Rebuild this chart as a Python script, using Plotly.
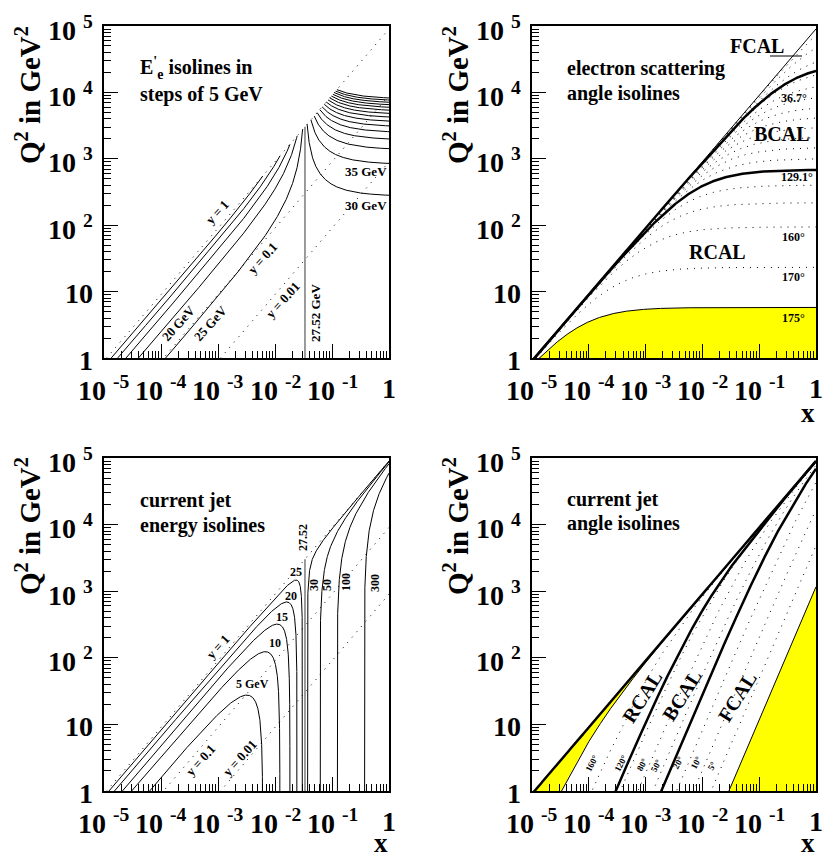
import numpy as np
import plotly.graph_objects as go

# ---------------- data (HERA kinematics) ----------------
E_E = 27.52          # electron beam energy [GeV]
E_P = 820.0          # proton beam energy [GeV]
S = 4 * E_E * E_P    # centre-of-mass energy squared

# panel 1: scattered electron energy isolines [GeV]
EE_LOW = [5, 10, 15, 20, 25]
EE_HIGH = [30, 35, 40, 45, 50, 55, 60, 65, 70, 75, 80, 85, 90, 95, 100]
Y_LINES = [1.0, 0.1, 0.01]

# panel 2: electron scattering angle isolines [deg]
THETA_THICK = [36.7, 129.1]
THETA_DOTTED = [10, 20, 30, 40, 50, 60, 70, 80, 90, 100, 110, 120, 140, 150, 160, 170]
THETA_YELLOW = 175.0

# panel 3: current jet energy isolines [GeV]
EJ_LOW = [5, 10, 15, 20, 25]
EJ_HIGH = [30, 50, 100, 300]

# panel 4: current jet angle isolines [deg]
GAMMA_THICK = [129.1, 36.7]
GAMMA_DOTTED = [160, 120, 80, 50, 20, 10, 5]
GAMMA_BACK = 175.0
GAMMA_FWD = 2.4

# axes
X_RANGE = [-5, 0]
Q2_RANGE = [0, 5]
X_TICKVALS = [1e-5, 1e-4, 1e-3, 1e-2, 1e-1, 1]
X_TICKTEXT = ["10\u00a0<sup>-5</sup>", "10\u00a0<sup>-4</sup>", "10\u00a0<sup>-3</sup>",
              "10\u00a0<sup>-2</sup>", "10\u00a0<sup>-1</sup>", "1"]
Y_TICKVALS = [1, 10, 1e2, 1e3, 1e4, 1e5]
Y_TICKTEXT = ["1", "10", "10\u00a0<sup>2</sup>", "10\u00a0<sup>3</sup>",
              "10\u00a0<sup>4</sup>", "10\u00a0<sup>5</sup>"]

# ---------------- geometry / style ----------------
W, H = 823, 857
FONT = "Liberation Serif"
PANELS = [(104, 389, 26, 358), (532, 816, 26, 358), (104, 389, 458, 791), (532, 816, 458, 791)]
DOT = "1px,6px"
YELLOW = "#ffff00"

XS = np.logspace(-5.5, 0, 3000)


def logx(a, b, n=1500):
    return np.logspace(np.log10(a), np.log10(b), n)


def ee_isoline(E):
    if E < E_E:
        x = logx(1e-6, E / E_P)
        q2 = 4 * (E_E - E) * E_E * E_P * x / (E_E - E_P * x)
    else:
        x = logx(E / E_P, 1.0)
        q2 = 4 * (E - E_E) * E_E * E_P * x / (E_P * x - E_E)
    return x, q2


def jet_energy_isoline(E):
    u = np.logspace(-10, 0, 1500)
    ymax = E / E_E if E < E_E else (E_P - E) / (E_P - E_E)
    y = np.unique(np.concatenate([ymax * u, ymax * (1 - u)]))
    y = y[(y > 0) & (y <= ymax)]
    x = (E - E_E * y) / (E_P * (1 - y))
    q2 = S * x * y
    k = (x > 0) & (q2 > 0) & (x <= 1.0000001)
    order = np.argsort(x[k])
    return x[k][order], q2[k][order]


def e_angle_q2(theta, x):
    c = np.cos(np.radians(theta) / 2) ** 2
    return 4 * E_E ** 2 * c / ((1 - c) + c * E_E / (E_P * x))


def jet_angle_q2(gamma, x):
    t = np.tan(np.radians(gamma) / 2) ** 2
    sx = S * x
    return t * sx ** 2 / (t * sx + 4 * E_E ** 2)


fig = go.Figure()


def names(i):
    return ("x" if i == 1 else f"x{i}", "y" if i == 1 else f"y{i}")


def line(i, x, y, width=1.0, dash="solid", color="black"):
    xa, ya = names(i)
    fig.add_trace(go.Scatter(x=x, y=y, mode="lines", xaxis=xa, yaxis=ya,
                             line=dict(color=color, width=width, dash=dash),
                             hoverinfo="skip", showlegend=False))


def fill(i, x, y):
    xa, ya = names(i)
    fig.add_trace(go.Scatter(x=x, y=y, mode="lines", xaxis=xa, yaxis=ya, fill="toself",
                             fillcolor=YELLOW, line=dict(width=0, color=YELLOW),
                             hoverinfo="skip", showlegend=False))


# ---- panel 1 ----
xd = logx(1e-6, 1.0)
for yv in Y_LINES:
    line(1, xd, S * xd * yv, dash=DOT)
for E in EE_LOW + EE_HIGH:
    x, q = ee_isoline(E)
    line(1, x, q)
x0 = E_E / E_P
line(1, [x0, x0], [1, 4 * E_E ** 2], width=1.5, color="#7a7a7a")

# ---- panel 2 ----
q175 = e_angle_q2(THETA_YELLOW, XS)
fill(2, np.concatenate([XS, [1.0, XS[0]]]), np.concatenate([q175, [0.1, 0.1]]))
line(2, XS, q175)
for th in THETA_DOTTED:
    line(2, XS, e_angle_q2(th, XS), dash=DOT)
line(2, xd, S * xd)
for th in THETA_THICK:
    line(2, XS, e_angle_q2(th, XS), width=2.5)

# ---- panel 3 ----
for yv in Y_LINES:
    line(3, xd, S * xd * yv, dash=DOT)
for E in EJ_LOW + EJ_HIGH:
    x, q = jet_energy_isoline(E)
    line(3, x, q)
line(3, [x0, x0], [1, 4 * E_E ** 2], width=1.5, color="#7a7a7a")

# ---- panel 4 ----
qb = jet_angle_q2(GAMMA_BACK, XS)
fill(4, np.concatenate([XS, XS[::-1]]), np.concatenate([S * XS, qb[::-1]]))
qf = jet_angle_q2(GAMMA_FWD, XS)
fill(4, np.concatenate([XS, [1.0, XS[0]]]), np.concatenate([qf, [0.1, 0.1]]))
line(4, XS, qb)
line(4, XS, qf)
for g in GAMMA_DOTTED:
    line(4, XS, jet_angle_q2(g, XS), dash=DOT)
line(4, XS, S * XS, width=2.5)
for g in GAMMA_THICK:
    line(4, XS, jet_angle_q2(g, XS), width=2.5)

# ---------------- axes ----------------
layout = dict(width=W, height=H, margin=dict(l=0, r=0, t=0, b=0, autoexpand=False),
              paper_bgcolor="white", plot_bgcolor="white", showlegend=False)
for i, (l, r, t, b) in enumerate(PANELS, start=1):
    xa, ya = names(i)
    common = dict(type="log", showline=True, linecolor="black", linewidth=1.5, mirror=True,
                  ticks="inside", ticklen=14, tickcolor="black", tickwidth=1,
                  showgrid=False, zeroline=False, tickmode="array", showticklabels=False,
                  automargin=False,
                  minor=dict(ticks="inside", ticklen=7, tickcolor="black", tickwidth=1,
                             tick0=0, dtick="D1", showgrid=False))
    layout["xaxis" if i == 1 else f"xaxis{i}"] = dict(common, range=X_RANGE, domain=[l / W, r / W],
                                                      anchor=ya, tickvals=X_TICKVALS)
    layout["yaxis" if i == 1 else f"yaxis{i}"] = dict(common, range=Q2_RANGE, domain=[1 - b / H, 1 - t / H],
                                                      anchor=xa, tickvals=Y_TICKVALS)
fig.update_layout(**layout)


def ann(text, px, py, size=13, angle=0, xanchor="center"):
    fig.add_annotation(text=f"<b>{text}</b>", x=px / W, y=1 - py / H, xref="paper", yref="paper",
                       showarrow=False, textangle=angle, xanchor=xanchor, yanchor="middle",
                       font=dict(family=FONT, size=size, color="black"))


# tick labels (bold, placed on the axes' own scales)
TICK_SIZE = 28
for i, (l, r, t, b) in enumerate(PANELS, start=1):
    xa, ya = names(i)
    for v, txt in zip(X_TICKVALS, X_TICKTEXT):
        fig.add_annotation(text=f"<b>{txt}</b>", xref=xa, x=np.log10(v), yref="paper",
                           y=1 - (b + 30) / H, xanchor="center", yanchor="middle", showarrow=False,
                           font=dict(family=FONT, size=TICK_SIZE, color="black"))
    for v, txt in zip(Y_TICKVALS, Y_TICKTEXT):
        fig.add_annotation(text=f"<b>{txt}</b>", xref="paper", x=(l - 9) / W, yref=ya, y=np.log10(v),
                           xanchor="right", yanchor="middle", yshift=-2, showarrow=False,
                           font=dict(family=FONT, size=TICK_SIZE, color="black"))

# axis titles
for px, py in [(28, 95), (456, 95), (28, 526), (456, 526)]:
    ann("Q<sup>2</sup> in GeV<sup>2</sup>", px, py, 29, -90)
for px, py in [(808, 413), (381, 843), (808, 843)]:
    ann("x", px, py, 27)

# panel 1 text
ann("E<sup>'</sup><sub>e</sub> isolines in", 138, 68, 20, xanchor="left")
ann("steps of 5 GeV", 138, 94, 20, xanchor="left")
ann("y = 1", 218, 212, 13, -48)
ann("y = 0.1", 262, 258, 13, -48)
ann("y = 0.01", 282, 300, 13, -48)
ann("20 GeV", 178, 323, 13, -48)
ann("25 GeV", 210, 323, 13, -48)
ann("27.52 GeV", 315, 313, 13, -90)
ann("35 GeV", 366, 172, 13)
ann("30 GeV", 366, 206, 13)

# panel 2 text
ann("FCAL", 757, 46, 20)
fig.add_shape(type="line", xref="paper", yref="paper", x0=770 / W, x1=802 / W,
              y0=1 - 56 / H, y1=1 - 56 / H, line=dict(color="black", width=1))
ann("electron scattering", 565, 68, 20, xanchor="left")
ann("angle isolines", 565, 93, 20, xanchor="left")
ann("36.7°", 794, 98, 12)
ann("BCAL", 782, 134, 20)
ann("129.1°", 797, 177, 12)
ann("160°", 793, 237, 12)
ann("RCAL", 717, 252, 20)
ann("170°", 793, 277, 12)
ann("175°", 793, 318, 12)

# panel 3 text
ann("current jet", 138, 500, 20, xanchor="left")
ann("energy isolines", 138, 525, 20, xanchor="left")
ann("27.52", 303, 538, 12, -90)
ann("25", 296, 572, 12)
ann("20", 291, 596, 12)
ann("15", 282, 617, 12)
ann("10", 275, 643, 12)
ann("5 GeV", 252, 684, 12)
ann("30", 314, 585, 12, -90)
ann("50", 327, 585, 12, -90)
ann("100", 346, 582, 12, -90)
ann("300", 375, 583, 12, -90)
ann("y = 1", 218, 646, 13, -48)
ann("y = 0.1", 200, 760, 13, -48)
ann("y = 0.01", 239, 758, 13, -48)

# panel 4 text
ann("current jet", 565, 499, 20, xanchor="left")
ann("angle isolines", 565, 523, 20, xanchor="left")
ann("RCAL", 642, 697, 20, -58)
ann("BCAL", 682, 695, 20, -58)
ann("FCAL", 737, 697, 20, -58)
for txt, px, py in [("160°", 592, 763), ("120°", 621, 763), ("80°", 642, 765), ("50°", 656, 766),
                    ("20°", 678, 763), ("10°", 696, 763), ("5°", 712, 766)]:
    ann(txt, px, py, 9, -62)

fig.write_html("out.html", config={"displayModeBar": False},
               post_script="document.body.style.margin='0px';document.body.style.overflow='hidden';")
